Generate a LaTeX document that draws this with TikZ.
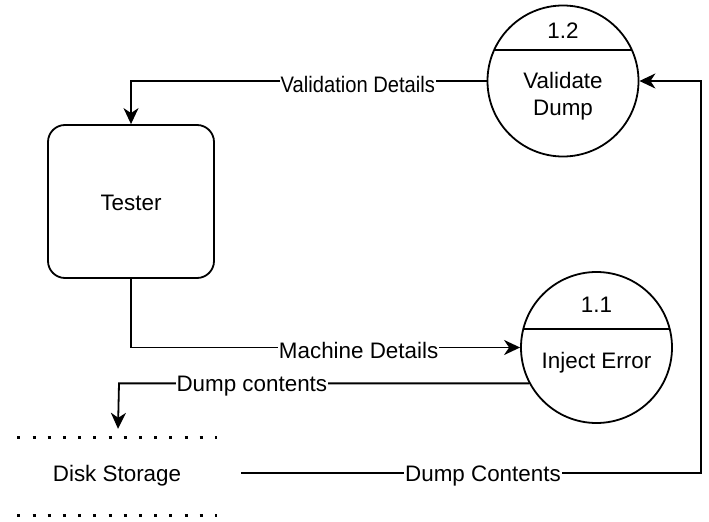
\documentclass[tikz,border=0pt]{standalone}
\usepackage{fontspec}
\setmainfont{Liberation Sans}
\usetikzlibrary{arrows.meta,calc}

\tikzset{
  base/.style={line width=1.8bp, draw=black},
  process/.style={base, circle, minimum size=151bp, inner sep=0pt},
  entity/.style={base, rounded corners=17bp, minimum width=166bp, minimum height=153bp, inner sep=0pt},
  txt/.style={font=\fontsize{22.4bp}{27bp}\selectfont, align=center, inner sep=0pt, yshift=-3bp},
  lbl/.style={txt, fill=white, inner xsep=1bp, inner ysep=2bp},
  flow/.style={base, -{Stealth[length=16bp, width=15bp, inset=5bp]}},
  store/.style={line width=3bp, dash pattern=on 3bp off 12.2bp}
}

\begin{document}
\begin{tikzpicture}[x=1bp, y=-1bp]
  \useasboundingbox (0,0) rectangle (709,522);

  % processes
  \node[process] (p12) at (563,81) {};
  \draw[base] ([shift={(-69.4,-31)}]p12.center) -- ([shift={(69.4,-31)}]p12.center);
  \node[txt] (p12num) at (563,28) {1.2};
  \node[txt] (p12name) at (563,93.5) {Validate\\Dump};

  \node[process] (p11) at (596.5,347.5) {};
  \draw[base] ([shift={(-73.2,-18.5)}]p11.center) -- ([shift={(73.2,-18.5)}]p11.center);
  \node[txt] (p11num) at (596.5,302) {1.1};
  \node[txt] (p11name) at (596.5,360) {Inject Error};

  % external entity
  \node[entity] (tester) at (131,201.5) {};
  \node[txt] (testername) at (131,200) {Tester};

  % data store
  \node[minimum width=198bp, minimum height=77bp, inner sep=0pt] (disk) at (115,476.5) {};
  \draw[store] ([xshift=1.5bp]disk.north west) -- ([xshift=3bp]disk.north east);
  \draw[store] ([xshift=1.5bp]disk.south west) -- ([xshift=3bp]disk.south east);
  \node[txt] (diskname) at (117,473) {Disk Storage};

  \coordinate (ds) at (241,473);
  \coordinate (rail) at (701,0);

  % data flows
  \draw[flow] (p12.west) -- node[lbl, pos=0.362] {\scalebox{0.9}[1]{Validation Details}} (p12.west -| tester.north) -- (tester.north);
  \draw[flow] (tester.south) -- (tester.south |- p11.west) -- node[lbl, pos=0.585] {Machine Details} (p11.west);
  \draw[flow] (p11.208) -- node[lbl, pos=0.676] {Dump contents} (p11.208 -| 119,0) -- ([shift={(3,-9)}]disk.north);
  \draw[flow] (ds) -- node[lbl, pos=0.526] {Dump Contents} (ds -| rail) -- (rail |- p12.east) -- (p12.east);
\end{tikzpicture}
\end{document}
